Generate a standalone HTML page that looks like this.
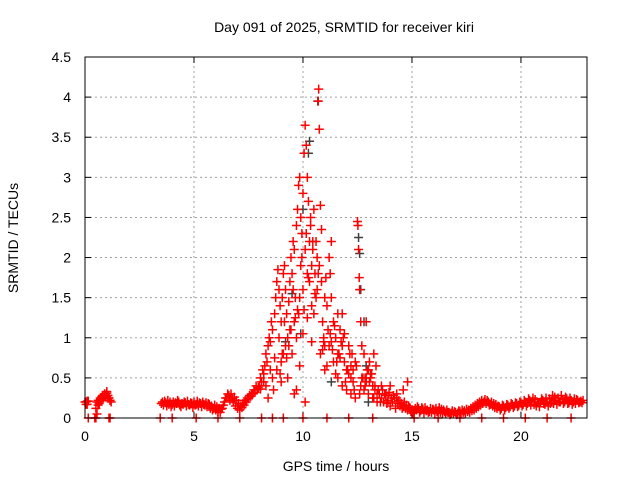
<!DOCTYPE html>
<html><head><meta charset="utf-8"><title>SRMTID kiri</title>
<style>
html,body{margin:0;padding:0;background:#fff;}
svg{display:block;font-family:"Liberation Sans",sans-serif;}
</style></head>
<body>
<svg id="chart" width="640" height="480" viewBox="0 0 640 480" xmlns="http://www.w3.org/2000/svg">
<rect x="0" y="0" width="640" height="480" fill="#fff"/>
<text x="344" y="32" text-anchor="middle" font-size="14" fill="#000">Day 091 of 2025, SRMTID for receiver kiri</text>
<text x="0" y="0" transform="translate(18,238) rotate(-90)" text-anchor="middle" font-size="14" fill="#000">SRMTID / TECUs</text>
<text x="336" y="471" text-anchor="middle" font-size="14" fill="#000">GPS time / hours</text>
<g id="grid"></g>
<g id="ticks"></g>
<g id="marks"></g>
<rect x="85" y="57" width="502" height="361" fill="none" stroke="#000" stroke-width="1"/>
</svg>
<script>
const xTicks = [0, 5, 10, 15, 20];
const yTicks = [0, 0.5, 1, 1.5, 2, 2.5, 3, 3.5, 4, 4.5];
const yTickLabels = ["0", "0.5", "1", "1.5", "2", "2.5", "3", "3.5", "4", "4.5"];
const baseHours = [0,0.05,0.1,0.5,0.55,0.6,0.65,0.7,0.75,0.8,0.85,0.9,0.95,1.0,1.05,1.1,1.15,
3.5,3.6,3.7,3.8,3.9,4.0,4.1,4.2,4.3,4.4,4.5,4.6,4.7,4.8,4.9,5.0,5.1,5.2,5.3,5.4,5.5,5.6,5.7,5.8,5.9,6.0,6.1,6.2,6.3,6.4,6.5,6.6,6.7,6.8,6.9,7.0,7.1,7.2,7.3,7.4,7.5,7.6,7.7,7.8,7.9,8.0,
13.5,13.6,13.7,13.8,13.9,14.0,14.1,14.2,14.3,14.4,14.5,14.6,14.7,14.8,14.9,15.0,15.1,15.2,15.3,15.4,15.5,15.6,15.7,15.8,15.9,16.0,16.1,16.2,16.3,16.4,16.5,16.6,16.7,16.8,16.9,17.0,17.1,17.2,17.3,17.4,17.5,17.6,17.7,17.8,17.9,18.0,18.1,18.2,18.3,18.4,18.5,18.6,18.7,18.8,18.9,19.0,19.1,19.2,19.3,19.4,19.5,19.6,19.7,19.8,19.9,20.0,20.1,20.2,20.3,20.4,20.5,20.6,20.7,20.8,20.9,21.0,21.1,21.2,21.3,21.4,21.5,21.6,21.7,21.8,21.9,22.0,22.1,22.2,22.3,22.4,22.5,22.6,22.7,22.8];
const baseLow = [0.2,0.17,0.21,0.12,0.2,0.22,0.18,0.25,0.24,0.28,0.26,0.3,0.27,0.33,0.28,0.25,0.22,
0.18,0.16,0.19,0.22,0.2,0.17,0.15,0.18,0.2,0.14,0.17,0.19,0.21,0.16,0.18,0.2,0.17,0.15,0.18,0.2,0.16,0.14,0.17,0.15,0.12,0.1,0.08,0.07,0.12,0.2,0.25,0.28,0.3,0.2,0.15,0.12,0.1,0.13,0.16,0.2,0.24,0.27,0.3,0.32,0.35,0.4,
0.3,0.25,0.2,0.28,0.22,0.15,0.2,0.25,0.3,0.22,0.18,0.14,0.12,0.1,0.13,0.1,0.08,0.1,0.12,0.09,0.11,0.13,0.1,0.08,0.07,0.1,0.12,0.09,0.07,0.06,0.08,0.1,0.07,0.06,0.05,0.07,0.06,0.08,0.1,0.09,0.11,0.1,0.12,0.14,0.16,0.18,0.2,0.22,0.2,0.18,0.2,0.17,0.15,0.13,0.12,0.14,0.12,0.15,0.13,0.16,0.14,0.17,0.15,0.18,0.16,0.19,0.17,0.2,0.18,0.22,0.2,0.17,0.15,0.19,0.2,0.22,0.17,0.2,0.24,0.2,0.18,0.22,0.25,0.2,0.23,0.2,0.24,0.19,0.22,0.2,0.18,0.22,0.2,0.19];
const baseHigh = [0.2,0.17,0.21,0.05,0.16,0.2,0.23,0.22,0.27,0.25,0.3,0.26,0.31,0.28,0.25,0.22,0.2,
0.2,0.21,0.15,0.17,0.14,0.2,0.19,0.22,0.16,0.18,0.2,0.15,0.17,0.19,0.13,0.16,0.21,0.19,0.14,0.17,0.19,0.18,0.12,0.1,0.16,0.14,0.12,0.11,0.16,0.25,0.3,0.22,0.24,0.26,0.22,0.18,0.15,0.18,0.22,0.25,0.28,0.3,0.35,0.4,0.38,0.36,
0.2,0.35,0.3,0.18,0.32,0.25,0.28,0.12,0.18,0.15,0.12,0.2,0.16,0.15,0.08,0.06,0.12,0.14,0.07,0.13,0.06,0.09,0.07,0.12,0.11,0.06,0.08,0.13,0.11,0.1,0.05,0.07,0.04,0.09,0.08,0.04,0.09,0.05,0.07,0.06,0.08,0.07,0.09,0.1,0.12,0.14,0.16,0.18,0.23,0.22,0.16,0.2,0.18,0.17,0.15,0.1,0.16,0.1,0.17,0.12,0.18,0.13,0.19,0.14,0.2,0.15,0.22,0.15,0.24,0.16,0.25,0.23,0.2,0.14,0.24,0.18,0.25,0.15,0.18,0.28,0.26,0.17,0.2,0.28,0.18,0.26,0.18,0.25,0.17,0.24,0.23,0.19,0.21,0.22];
const peakHours = [8.05,8.1,8.15,8.2,8.25,8.3,8.35,8.4,8.45,8.5,8.55,8.6,8.7,8.75,8.8,8.85,8.9,8.95,9.0,9.05,9.1,9.15,9.2,9.25,9.3,9.35,9.4,9.45,9.5,9.55,9.6,9.65,9.7,9.75,9.8,9.85,9.9,9.95,10.0,10.05,10.1,10.15,10.2,10.25,10.3,10.35,10.4,10.45,10.5,10.55,10.6,10.65,10.7,10.72,10.75,10.8,10.85,10.9,10.95,11.0,11.1,11.2,11.25,11.3,11.4,11.5,11.6,11.7,11.8,11.9,12.0,12.1,12.2,12.3,12.4,12.5,12.52,12.55,12.58,12.6,12.65,12.7,12.8,12.9,13.0,13.1,13.2,13.3,13.4,
8.6,8.8,9.0,9.1,9.2,9.4,9.6,9.8,10.0,10.2,10.4,10.6,10.8,11.0,11.2,11.4,11.6,11.8,12.0,12.2,12.4,12.6,12.8,13.0,13.2,13.4,9.3,9.5,9.7,9.9,10.1,10.3,10.5,10.7,10.9,11.1,11.3,11.5,11.7,11.9,12.1,12.3,12.7,12.9,13.1,13.3,9.85,10.0,10.2,9.0,9.7,11.6,8.3,8.5,8.7,8.9,9.15,9.35,9.55,9.75,9.95,10.15,10.35,10.55,10.75,10.95,11.15,11.35,11.55,11.75,11.95,12.15,12.35,12.45,12.75,12.85,12.95,13.05,13.15,13.25,13.35,13.45,
8.2,8.4,8.65,8.95,9.05,9.25,9.45,9.65,9.85,10.05,10.25,10.45,10.65,10.85,11.05,11.25,11.45,11.65,11.85,12.05,12.25,12.65,12.85,13.05,13.25,13.6,13.8,14.0,14.3,14.6,14.8,9.6,10.1,10.4,11.0,11.3,11.8,12.2,12.9];
const peakValues = [0.5,0.45,0.6,0.55,0.65,0.8,0.7,0.9,1.0,0.95,1.2,1.1,1.3,1.5,1.7,1.85,1.6,1.4,1.2,1.5,1.8,1.9,1.6,1.3,1.0,1.45,1.7,2.0,1.8,2.2,2.1,1.5,2.4,2.6,2.9,3.0,2.5,2.3,2.8,3.3,3.65,3.4,3.0,2.7,2.2,2.4,1.9,2.1,2.6,1.8,2.2,2.0,3.95,4.1,3.6,2.65,1.7,1.2,1.0,0.9,1.4,2.0,1.8,1.5,1.2,1.0,0.8,1.1,0.9,0.7,0.6,0.9,0.5,0.45,0.7,2.45,2.4,2.1,1.75,1.6,1.2,0.9,0.8,1.2,0.6,0.5,0.4,0.35,0.3,
0.5,0.6,0.7,0.8,0.9,1.1,1.2,1.3,1.6,1.8,1.4,1.5,0.8,0.6,0.9,0.7,0.5,0.4,0.35,0.3,0.25,0.3,0.35,0.3,0.25,0.2,0.5,0.8,1.0,1.9,2.1,1.7,1.3,1.8,0.85,0.65,0.95,0.55,0.75,1.05,0.55,0.6,0.5,0.45,0.55,0.4,0.65,1.05,1.25,0.45,0.35,1.3,0.4,0.6,0.75,1.0,1.2,0.9,1.6,1.35,2.0,2.3,2.5,1.55,1.9,0.95,1.1,0.85,0.7,0.95,0.45,0.8,0.35,0.65,0.5,0.4,0.6,0.7,0.55,0.8,0.65,0.35,0.45,0.25,
0.35,0.55,0.8,0.75,1.1,1.25,1.5,1.35,1.75,2.2,1.6,2.35,1.75,1.05,1.15,0.8,1.0,0.6,0.8,0.4,0.5,0.45,0.25,0.4,0.3,0.4,0.25,0.35,0.45,0.3,0.2,0.95,1.5,2.2,1.3,0.65,0.5,0.75,0.3];
const zeroHours = [0.15,0.45,0.5,1.1,1.15,3.45,4.0,5.1,6.1,7.1,8.1,8.6,9.1,10.0,11.1,12.1,13.2,15.1,16.2,17.2,18.2,19.2,20.2,21.2,22.3];
const grayHours = [10.25,10.3,10.68,12.55,12.6,12.65,12.8,9.5,10.0,9.2,11.3,12.9,9.9,13.0];
const grayValues = [3.3,3.45,3.95,2.25,2.05,1.6,1.2,1.55,2.6,0.95,0.45,0.65,1.05,0.2];

const X0 = 85, X1 = 587, Y0 = 418, Y1 = 57, XMAX = 23.03, YMAX = 4.5;
function xs(h){ return X0 + (X1 - X0) * h / XMAX; }
function ys(v){ return Y0 - (Y0 - Y1) * v / YMAX; }
const NS = "http://www.w3.org/2000/svg";
const grid = document.getElementById('grid');
const ticks = document.getElementById('ticks');
const marks = document.getElementById('marks');
function mk(tag, attrs, parent){ const e = document.createElementNS(NS, tag); for (const k in attrs) e.setAttribute(k, attrs[k]); parent.appendChild(e); return e; }

yTicks.forEach((v, i) => {
  const y = ys(v);
  if (i > 0 && i < yTicks.length - 1) {
    const g = mk('line', {x1: X0, x2: X1, y1: y, y2: y, stroke: '#a0a0a0', 'stroke-width': 1, 'stroke-dasharray': '2,3'}, grid);
    
    
  }
  const t = mk('line', {x1: X0, x2: X0 + 6, y1: y, y2: y, stroke: '#000'}, ticks);
  
  
  const t2 = mk('line', {x1: X1, x2: X1 - 6, y1: y, y2: y, stroke: '#000'}, ticks);
  
  
  const l = mk('text', {x: X0 - 14, y: y + 5, 'text-anchor': 'end', 'font-size': 14}, ticks);
  l.textContent = yTickLabels[i];
  
  
});
xTicks.forEach(h => {
  const x = xs(h);
  if (h > 0) {
    const g = mk('line', {x1: x, x2: x, y1: Y0, y2: Y1, stroke: '#a0a0a0', 'stroke-width': 1, 'stroke-dasharray': '2,3'}, grid);
    
    
  }
  const t = mk('line', {x1: x, x2: x, y1: Y0, y2: Y0 - 6, stroke: '#000'}, ticks);
  
  
  const t2 = mk('line', {x1: x, x2: x, y1: Y1, y2: Y1 + 6, stroke: '#000'}, ticks);
  
  
  const l = mk('text', {x: x, y: Y0 + 23, 'text-anchor': 'middle', 'font-size': 14}, ticks);
  l.textContent = String(h);
  
  
});
function cross(h, v, color, name){
  const x = xs(h), y = ys(v);
  const p = mk('path', {d: 'M' + (x - 4.5) + ' ' + y + 'h9M' + x + ' ' + (y - 4.5) + 'v9', stroke: color, 'stroke-width': 1.5, fill: 'none'}, marks);
  
  
}
grayHours.forEach((h, i) => cross(h, grayValues[i], '#404040', 'srmtid-reference-point'));
baseHours.forEach((h, i) => { cross(h, baseLow[i], '#ff0000', 'srmtid-point'); cross(h + 0.05, baseHigh[i], '#ff0000', 'srmtid-point'); });
peakHours.forEach((h, i) => cross(h, peakValues[i], '#ff0000', 'srmtid-point'));
zeroHours.forEach(h => cross(h, 0, '#ff0000', 'srmtid-zero-point'));
</script>
</body></html>
